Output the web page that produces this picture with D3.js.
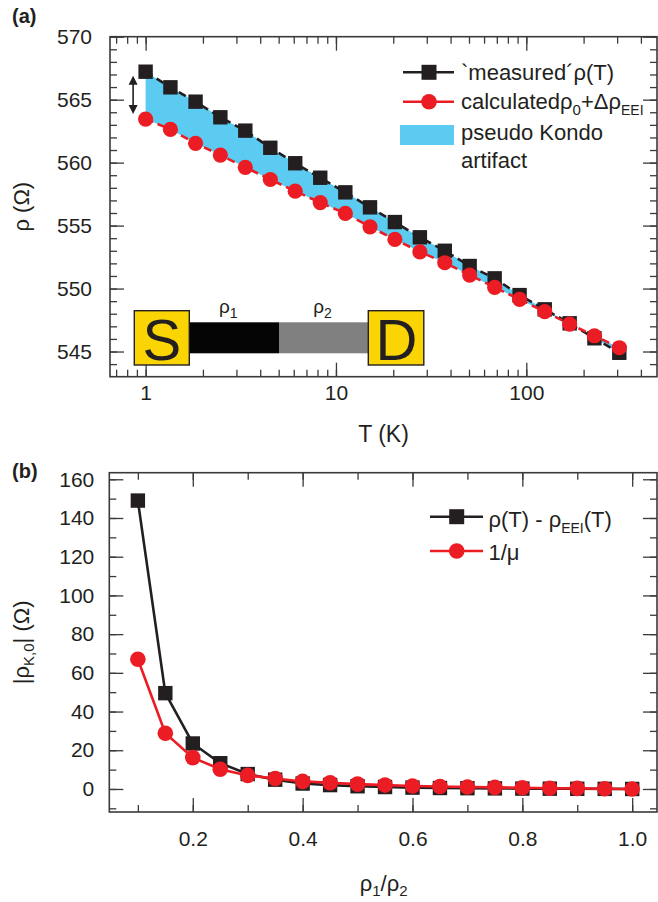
<!DOCTYPE html>
<html>
<head>
<meta charset="utf-8">
<script src="https://cdn.jsdelivr.net/npm/d3@7"></script>
<style>
  body { margin: 0; background: #fff; }
  text { font-family: "Liberation Sans", Arial, Helvetica, sans-serif; fill: #231f20; }
</style>
</head>
<body>
<script>
// ---- panel (a) data ----
var tempK = [1, 1.35, 1.83, 2.47, 3.34, 4.52, 6.11, 8.27, 11.2, 15.1, 20.4, 27.6, 37.3, 50.4, 68.2, 92.2, 125, 169, 228, 308];
var rhoMeasured = [567.22, 565.98, 564.84, 563.60, 562.54, 561.18, 559.95, 558.80, 557.64, 556.45,
                   555.28, 554.07, 553.00, 551.79, 550.81, 549.48, 548.35, 547.24, 546.05, 544.90];
var rhoCalculated = [563.46, 562.64, 561.53, 560.60, 559.63, 558.66, 557.73, 556.83, 555.97, 554.90,
                     553.90, 552.92, 552.05, 551.07, 550.10, 549.14, 548.16, 547.18, 546.25, 545.30];
var xMajorA = [1, 10, 100];
var yMajorA = [545, 550, 555, 560, 565, 570];

// ---- panel (b) data ----
var ratio = [0.1, 0.15, 0.2, 0.25, 0.3, 0.35, 0.4, 0.45, 0.5, 0.55, 0.6, 0.65, 0.7, 0.75, 0.8, 0.85, 0.9, 0.95, 1.0];
var rhoDiff = [149, 49.5, 23.5, 13.3, 7.7, 4.8, 2.8, 2.0, 1.4, 1.0, 0.7, 0.5, 0.4, 0.3, 0.2, 0.15, 0.1, 0.05, 0];
var invMu = [67, 28.8, 16.2, 10.2, 7.0, 5.4, 3.9, 3.2, 2.5, 2.0, 1.5, 1.3, 1.0, 0.8, 0.6, 0.4, 0.3, 0.15, 0];
var xMajorB = [0.2, 0.4, 0.6, 0.8, 1.0];
var xMinorB = [0.1, 0.2, 0.3, 0.4, 0.5, 0.6, 0.7, 0.8, 0.9, 1.0];
var yMajorB = [0, 20, 40, 60, 80, 100, 120, 140, 160];

var width = 658, height = 902;
var ink = "#231f20", red = "#ec1c24", blue = "#5bcbf1", frameCol = "#3a3a3a";
var font = '"Liberation Sans", Arial, Helvetica, sans-serif';

var svg = d3.select("body").append("svg")
  .attr("width", width)
  .attr("height", height);

// draws inward ticks on all four sides plus the box
function frame(g, x, y, box, o) {
  function style(sel) {
    sel.select(".domain").remove();
    sel.selectAll("line").attr("stroke", frameCol).attr("stroke-width", 1.3);
    sel.attr("font-family", font).attr("font-size", 21);
    sel.selectAll("text").attr("fill", ink);
  }
  var b = g.append("g").attr("transform", `translate(0,${box.bottom})`);
  b.append("g").call(d3.axisBottom(x).tickValues(o.xMinor).tickSize(-7).tickFormat("")).call(style);
  b.append("g").call(d3.axisBottom(x).tickValues(o.xMajor).tickSize(-14).tickPadding(o.xPad).tickFormat(o.xFmt)).call(style);

  var t = g.append("g").attr("transform", `translate(0,${box.top})`);
  t.append("g").call(d3.axisTop(x).tickValues(o.xMinor).tickSize(-7).tickFormat("")).call(style);
  t.append("g").call(d3.axisTop(x).tickValues(o.xMajor).tickSize(-14).tickFormat("")).call(style);

  var l = g.append("g").attr("transform", `translate(${box.left},0)`);
  l.append("g").call(d3.axisLeft(y).tickValues(o.yMinor).tickSize(-7).tickFormat("")).call(style);
  l.append("g").call(d3.axisLeft(y).tickValues(o.yMajor).tickSize(-14).tickPadding(o.yPad).tickFormat(d3.format("d"))).call(style);

  var r = g.append("g").attr("transform", `translate(${box.right},0)`);
  r.append("g").call(d3.axisRight(y).tickValues(o.yMinor).tickSize(-7).tickFormat("")).call(style);
  r.append("g").call(d3.axisRight(y).tickValues(o.yMajor).tickSize(-14).tickFormat("")).call(style);

  g.append("rect")
    .attr("x", box.left).attr("y", box.top)
    .attr("width", box.right - box.left).attr("height", box.bottom - box.top)
    .attr("fill", "none").attr("stroke", frameCol).attr("stroke-width", 1.6);
}

// ================= panel (a) =================
var boxA = {left: 110, right: 657, top: 36.7, bottom: 376.7};
var xa = d3.scaleLog().domain([0.65, 486]).range([boxA.left, boxA.right]);
var ya = d3.scaleLinear().domain([543, 570]).range([boxA.bottom, boxA.top]);
var gA = svg.append("g");

var rowsA = tempK.map((t, i) => ({t: t, m: rhoMeasured[i], c: rhoCalculated[i]}));

gA.append("path")
  .datum(rowsA)
  .attr("fill", blue)
  .attr("d", d3.area().x(d => xa(d.t)).y0(d => ya(d.c)).y1(d => ya(d.m)));

gA.append("path")
  .datum(rowsA)
  .attr("fill", "none").attr("stroke", ink).attr("stroke-width", 2.6)
  .attr("stroke-dasharray", "8,5")
  .attr("d", d3.line().x(d => xa(d.t)).y(d => ya(d.m)));

gA.selectAll("rect.sq")
  .data(rowsA).enter().append("rect")
  .attr("class", "sq")
  .attr("x", d => xa(d.t) - 7.2).attr("y", d => ya(d.m) - 7.2)
  .attr("width", 14.4).attr("height", 14.4)
  .attr("fill", ink);

gA.append("path")
  .datum(rowsA)
  .attr("fill", "none").attr("stroke", red).attr("stroke-width", 2.6)
  .attr("stroke-dasharray", "8,5")
  .attr("d", d3.line().x(d => xa(d.t)).y(d => ya(d.c)));

gA.selectAll("circle.ci")
  .data(rowsA).enter().append("circle")
  .attr("class", "ci")
  .attr("cx", d => xa(d.t)).attr("cy", d => ya(d.c))
  .attr("r", 7.6)
  .attr("fill", red);

// double arrow marking the gap at the lowest temperature
var ax = xa(tempK[0]) - 12.5;
var ay1 = ya(rhoMeasured[0]) + 4, ay2 = ya(rhoCalculated[0]) - 5;
gA.append("line")
  .attr("x1", ax).attr("x2", ax).attr("y1", ay1 + 6).attr("y2", ay2 - 6)
  .attr("stroke", ink).attr("stroke-width", 1.6);
gA.append("path")
  .attr("d", `M${ax},${ay1} l-4.5,9 l9,0 z M${ax},${ay2} l-4.5,-9 l9,0 z`)
  .attr("fill", ink);

frame(gA, xa, ya, boxA, {
  xMajor: xMajorA,
  xMinor: xa.ticks().filter(v => xa(v) >= boxA.left && xa(v) <= boxA.right),
  xFmt: d3.format("d"),
  xPad: 8,
  yMajor: yMajorA,
  yMinor: d3.range(544, 571, 1),
  yPad: 18
});

// S - D device sketch
var dev = gA.append("g");
dev.append("rect").attr("x", 189.3).attr("y", 322.3).attr("width", 89.7).attr("height", 31).attr("fill", "#050505");
dev.append("rect").attr("x", 279).attr("y", 322.3).attr("width", 89.3).attr("height", 31).attr("fill", "#808080");
dev.append("rect").attr("x", 134.3).attr("y", 310.7).attr("width", 55).attr("height", 54.3)
  .attr("fill", "#fbd404").attr("stroke", ink).attr("stroke-width", 1.4);
dev.append("rect").attr("x", 368.3).attr("y", 310.7).attr("width", 55.5).attr("height", 54.3)
  .attr("fill", "#fbd404").attr("stroke", ink).attr("stroke-width", 1.4);
dev.append("text").attr("x", 161.8).attr("y", 360).attr("text-anchor", "middle")
  .attr("font-size", 58).text("S");
dev.append("text").attr("x", 396.5).attr("y", 360).attr("text-anchor", "middle")
  .attr("font-size", 58).text("D");
[["1", 219], ["2", 313.3]].forEach(function (p) {
  var t = dev.append("text").attr("x", p[1]).attr("y", 313).attr("font-size", 19);
  t.append("tspan").text("ρ");
  t.append("tspan").attr("font-size", 14).attr("dy", 5).text(p[0]);
});

// legend (a)
var lgA = gA.append("g");
lgA.append("line").attr("x1", 403).attr("x2", 454).attr("y1", 72.3).attr("y2", 72.3)
  .attr("stroke", ink).attr("stroke-width", 2.6);
lgA.append("rect").attr("x", 429 - 7.5).attr("y", 72.3 - 7.5).attr("width", 15).attr("height", 15).attr("fill", ink);
lgA.append("text").attr("x", 461).attr("y", 80).attr("font-size", 22).text("`measured´ρ(T)");

lgA.append("line").attr("x1", 403).attr("x2", 454).attr("y1", 101.7).attr("y2", 101.7)
  .attr("stroke", red).attr("stroke-width", 2.6);
lgA.append("circle").attr("cx", 429).attr("cy", 101.7).attr("r", 7.8).attr("fill", red);
var t2 = lgA.append("text").attr("x", 461).attr("y", 109).attr("font-size", 22);
t2.append("tspan").text("calculatedρ");
t2.append("tspan").attr("font-size", 15).attr("dy", 6).text("0");
t2.append("tspan").attr("dy", -6).text("+Δρ");
t2.append("tspan").attr("font-size", 14).attr("dy", 6).text("EEI");

lgA.append("rect").attr("x", 400).attr("y", 125).attr("width", 54).attr("height", 20).attr("fill", blue);
lgA.append("text").attr("x", 461).attr("y", 140).attr("font-size", 22).text("pseudo Kondo");
lgA.append("text").attr("x", 461).attr("y", 168).attr("font-size", 22).text("artifact");

// titles (a)
svg.append("text").attr("x", 12).attr("y", 23).attr("font-size", 20).attr("font-weight", "bold").text("(a)");
svg.append("text").attr("x", (boxA.left + boxA.right) / 2).attr("y", 442).attr("text-anchor", "middle")
  .attr("font-size", 23).text("T (K)");
svg.append("text").attr("transform", `translate(29,${(boxA.top + boxA.bottom) / 2}) rotate(-90)`)
  .attr("text-anchor", "middle").attr("font-size", 22).text("ρ (Ω)");

// ================= panel (b) =================
var boxB = {left: 109.3, right: 657, top: 472.7, bottom: 812};
var xb = d3.scaleLinear().domain([0.048, 1.047]).range([boxB.left, 658]);
var yb = d3.scaleLinear().domain([-11.9, 163.4]).range([boxB.bottom, boxB.top]);
var gB = svg.append("g");

var rowsB = ratio.map((r, i) => ({r: r, d: rhoDiff[i], m: invMu[i]}));

gB.append("path").datum(rowsB)
  .attr("fill", "none").attr("stroke", ink).attr("stroke-width", 2.6)
  .attr("d", d3.line().x(d => xb(d.r)).y(d => yb(d.d)));
gB.selectAll("rect.sq").data(rowsB).enter().append("rect")
  .attr("class", "sq")
  .attr("x", d => xb(d.r) - 7.2).attr("y", d => yb(d.d) - 7.2)
  .attr("width", 14.4).attr("height", 14.4).attr("fill", ink);

gB.append("path").datum(rowsB)
  .attr("fill", "none").attr("stroke", red).attr("stroke-width", 2.6)
  .attr("d", d3.line().x(d => xb(d.r)).y(d => yb(d.m)));
gB.selectAll("circle.ci").data(rowsB).enter().append("circle")
  .attr("class", "ci")
  .attr("cx", d => xb(d.r)).attr("cy", d => yb(d.m))
  .attr("r", 7.8).attr("fill", red);

frame(gB, xb, yb, boxB, {
  xMajor: xMajorB,
  xMinor: xMinorB,
  xFmt: d3.format(".1f"),
  xPad: 19,
  yMajor: yMajorB,
  yMinor: d3.range(-10, 161, 10),
  yPad: 15
});

// legend (b)
var lgB = gB.append("g");
lgB.append("line").attr("x1", 430).attr("x2", 483).attr("y1", 516.7).attr("y2", 516.7)
  .attr("stroke", ink).attr("stroke-width", 2.6);
lgB.append("rect").attr("x", 456.7 - 7.5).attr("y", 516.7 - 7.5).attr("width", 15).attr("height", 15).attr("fill", ink);
var tb = lgB.append("text").attr("x", 488.5).attr("y", 527).attr("font-size", 22);
tb.append("tspan").text("ρ(T) - ρ");
tb.append("tspan").attr("font-size", 14).attr("dy", 6).text("EEI");
tb.append("tspan").attr("dy", -6).text("(T)");

lgB.append("line").attr("x1", 430).attr("x2", 483).attr("y1", 551).attr("y2", 551)
  .attr("stroke", red).attr("stroke-width", 2.6);
lgB.append("circle").attr("cx", 456.7).attr("cy", 551).attr("r", 7.8).attr("fill", red);
lgB.append("text").attr("x", 488.5).attr("y", 560).attr("font-size", 22).text("1/μ");

// titles (b)
svg.append("text").attr("x", 12).attr("y", 478).attr("font-size", 20).attr("font-weight", "bold").text("(b)");
var xt = svg.append("text").attr("x", (boxB.left + 658) / 2).attr("y", 891).attr("text-anchor", "middle").attr("font-size", 22);
xt.append("tspan").text("ρ");
xt.append("tspan").attr("font-size", 15).attr("dy", 5).text("1");
xt.append("tspan").attr("dy", -5).text("/ρ");
xt.append("tspan").attr("font-size", 15).attr("dy", 5).text("2");

var yt = svg.append("text").attr("transform", `translate(29,${(boxB.top + boxB.bottom) / 2}) rotate(-90)`)
  .attr("text-anchor", "middle").attr("font-size", 22);
yt.append("tspan").text("|ρ");
yt.append("tspan").attr("font-size", 15).attr("dy", 5).text("K,0");
yt.append("tspan").attr("dy", -5).text("| (Ω)");
</script>
</body>
</html>
